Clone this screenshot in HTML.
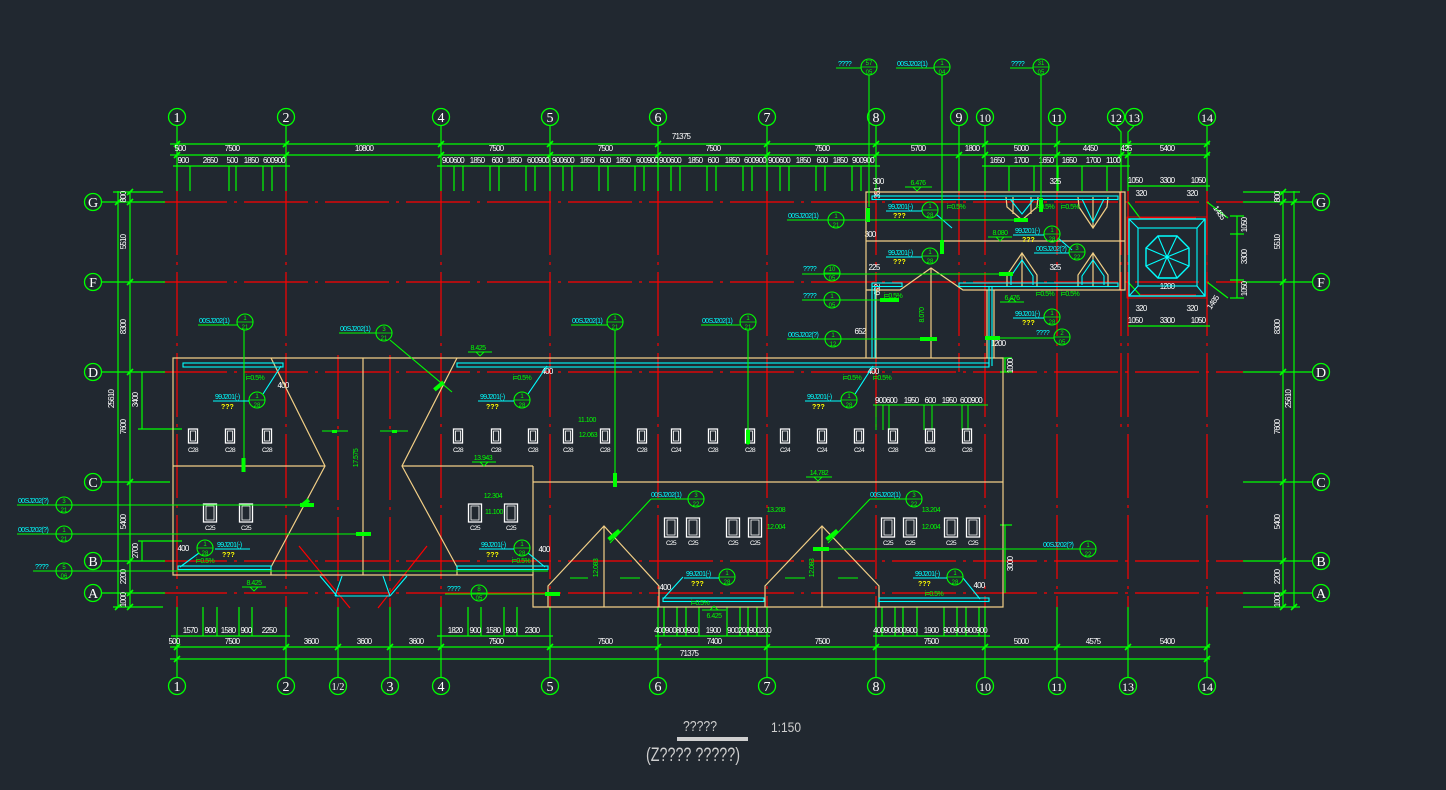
<!DOCTYPE html>
<html><head><meta charset="utf-8">
<style>
html,body{margin:0;padding:0;background:#212830;width:1446px;height:790px;overflow:hidden}
svg{display:block}
.w{fill:#fff;font-family:"Liberation Sans",sans-serif;font-size:8px;text-anchor:middle;letter-spacing:-0.8px}
.n{fill:#fff;font-family:"Liberation Serif",serif;font-size:14px;text-anchor:middle}
.c{fill:#00ffff;font-family:"Liberation Sans",sans-serif;font-size:7px;letter-spacing:-0.6px}
.g{fill:#00ff00;font-family:"Liberation Sans",sans-serif;font-size:7px;text-anchor:middle;letter-spacing:-0.5px}
.s{fill:#00ff00;font-family:"Liberation Sans",sans-serif;font-size:6px;text-anchor:middle}
.y{fill:#ffff00;font-family:"Liberation Sans",sans-serif;font-size:7px;font-weight:bold}
.t{fill:#cfcfcf;font-family:"Liberation Sans",sans-serif;text-anchor:middle}
</style></head><body>
<svg width="1446" height="790" viewBox="0 0 1446 790" xmlns="http://www.w3.org/2000/svg">
<rect width="1446" height="790" fill="#212830"/>

<!-- RED AXIS LINES -->
<g stroke="#ff0000" stroke-width="1.2" stroke-dasharray="64 7 3 7" fill="none">
<path d="M163 202H1243M163 282H1243M163 372H1243M163 561H1243M163 593H1243"/>
<path d="M177 191V607M286 191V607M441 191V607M550 191V607M658 191V607M767 191V607M876 191V607M985 191V607M1057 191V607M1128 191V607M1207 191V607"/>
<path d="M959 191V372M1121 191V430M338 355V607M390 355V607"/>
</g>
<g stroke="#ff0000" stroke-width="1.2" fill="none">
<path d="M1140 218H1196M1140 295H1196"/>
<path d="M299 546L350 608M427 546L378 608"/>
</g>

<!-- GREEN DIMENSIONS / AXES -->
<g stroke="#00ff00" stroke-width="1.2" fill="none">
<path d="M177 126V191M286 126V191M441 126V191M550 126V191M658 126V191M767 126V191M876 126V191M959 126V191M985 126V191M1057 126V191M1207 126V191M1116 126L1121 132V191M1134 126L1128 132V191"/>
<path d="M177 607V677M286 607V677M338 607V677M390 607V677M441 607V677M550 607V677M658 607V677M767 607V677M876 607V677M985 607V677M1057 607V677M1128 607V677M1207 607V677"/>
<path d="M170 144H1210M170 155H1210M173 166H290M437 166H880M982 166H1130"/>
<path d="M190 166V191M229 166V191M236 166V191M263 166V191M272 166V191"/>
<path d="M454 166V191M463 166V191M490 166V191M499 166V191M526 166V191M535 166V191"/>
<path d="M563 166V191M572 166V191M599 166V191M608 166V191M635 166V191M644 166V191"/>
<path d="M671 166V191M680 166V191M707 166V191M716 166V191M743 166V191M752 166V191"/>
<path d="M780 166V191M789 166V191M816 166V191M825 166V191M852 166V191M861 166V191"/>
<path d="M1009 166V191M1034 166V191M1058 166V191M1082 166V191M1107 166V191"/>
<path d="M170 647H1210M170 659H1210M171 636H290M437 636H553M655 636H770M873 636H990"/>
<path d="M203 607V636M217 607V636M239 607V636M252 607V636M468 607V636M481 607V636M504 607V636M517 607V636"/>
<path d="M664 607V636M677 607V636M686 607V636M699 607V636M727 607V636M740 607V636M748 607V636M757 607V636"/>
<path d="M882 607V636M895 607V636M903 607V636M917 607V636M944 607V636M957 607V636M966 607V636M979 607V636"/>
<path d="M118 191V608M130 191V608M113 192H163M113 607H163M142 372V429M138 429H182M142 541V561M138 541H182"/>
<path d="M102 202H165M102 282H165M102 372H165M102 482H170M102 561H165M102 593H165"/>
<path d="M1283 191V608M1294 191V608M1243 192H1300M1243 607H1300"/>
<path d="M1243 202H1313M1243 282H1313M1243 372H1313M1243 482H1313M1243 561H1313M1243 593H1313"/>
<path d="M1005 358V372M1000 358H1012M1000 372H1012M1005 525V593M1000 525H1012"/>
<path d="M1128 186H1210M1128 326H1210M1237 216V298M1230 216H1244M1230 298H1244M1230 234H1244M1230 280H1244M1207 202L1228 218M1207 282L1228 298M1128 202L1140 218M1128 282L1140 295"/>
</g>
<!-- dimension ticks -->
<g stroke="#00ff00" stroke-width="1.6">
<path d="M174 147l6-6M283 147l6-6M438 147l6-6M547 147l6-6M655 147l6-6M764 147l6-6M873 147l6-6M982 147l6-6M1054 147l6-6M1125 147l6-6M1204 147l6-6"/>
<path d="M174 158l6-6M283 158l6-6M438 158l6-6M547 158l6-6M655 158l6-6M764 158l6-6M873 158l6-6M956 158l6-6M982 158l6-6M1054 158l6-6M1118 158l6-6M1125 158l6-6M1204 158l6-6"/>
<path d="M174 650l6-6M283 650l6-6M335 650l6-6M387 650l6-6M438 650l6-6M547 650l6-6M655 650l6-6M764 650l6-6M873 650l6-6M982 650l6-6M1054 650l6-6M1125 650l6-6M1204 650l6-6"/>
<path d="M174 662l6-6M1204 662l6-6"/>
<path d="M115 205l6-6M127 205l6-6M127 195l6-6M127 285l6-6M127 375l6-6M127 485l6-6M127 564l6-6M127 596l6-6M127 610l6-6M115 610l6-6"/>
<path d="M1280 205l6-6M1291 205l6-6M1280 195l6-6M1280 285l6-6M1280 375l6-6M1280 485l6-6M1280 564l6-6M1280 596l6-6M1280 610l6-6M1291 610l6-6"/>
</g>

<!-- axis circles -->
<g stroke="#00ff00" stroke-width="1.3" fill="none">
<circle cx="177" cy="117" r="8.5"/><circle cx="286" cy="117" r="8.5"/><circle cx="441" cy="117" r="8.5"/><circle cx="550" cy="117" r="8.5"/><circle cx="658" cy="117" r="8.5"/><circle cx="767" cy="117" r="8.5"/><circle cx="876" cy="117" r="8.5"/><circle cx="959" cy="117" r="8.5"/><circle cx="985" cy="117" r="8.5"/><circle cx="1057" cy="117" r="8.5"/><circle cx="1116" cy="117" r="8.5"/><circle cx="1134" cy="117" r="8.5"/><circle cx="1207" cy="117" r="8.5"/>
<circle cx="177" cy="686" r="8.5"/><circle cx="286" cy="686" r="8.5"/><circle cx="338" cy="686" r="8.5"/><circle cx="390" cy="686" r="8.5"/><circle cx="441" cy="686" r="8.5"/><circle cx="550" cy="686" r="8.5"/><circle cx="658" cy="686" r="8.5"/><circle cx="767" cy="686" r="8.5"/><circle cx="876" cy="686" r="8.5"/><circle cx="985" cy="686" r="8.5"/><circle cx="1057" cy="686" r="8.5"/><circle cx="1128" cy="686" r="8.5"/><circle cx="1207" cy="686" r="8.5"/>
<circle cx="93" cy="202" r="8.5"/><circle cx="93" cy="282" r="8.5"/><circle cx="93" cy="372" r="8.5"/><circle cx="93" cy="482" r="8.5"/><circle cx="93" cy="561" r="8.5"/><circle cx="93" cy="593" r="8.5"/>
<circle cx="1321" cy="202" r="8.5"/><circle cx="1321" cy="282" r="8.5"/><circle cx="1321" cy="372" r="8.5"/><circle cx="1321" cy="482" r="8.5"/><circle cx="1321" cy="561" r="8.5"/><circle cx="1321" cy="593" r="8.5"/>
</g>
<g class="n">
<text x="177" y="122">1</text><text x="286" y="122">2</text><text x="441" y="122">4</text><text x="550" y="122">5</text><text x="658" y="122">6</text><text x="767" y="122">7</text><text x="876" y="122">8</text><text x="959" y="122">9</text><text x="985" y="122" font-size="12">10</text><text x="1057" y="122" font-size="12">11</text><text x="1116" y="122" font-size="12">12</text><text x="1134" y="122" font-size="12">13</text><text x="1207" y="122" font-size="12">14</text>
<text x="177" y="691">1</text><text x="286" y="691">2</text><text x="338" y="690" font-size="10">1/2</text><text x="390" y="691">3</text><text x="441" y="691">4</text><text x="550" y="691">5</text><text x="658" y="691">6</text><text x="767" y="691">7</text><text x="876" y="691">8</text><text x="985" y="691" font-size="12">10</text><text x="1057" y="691" font-size="12">11</text><text x="1128" y="691" font-size="12">13</text><text x="1207" y="691" font-size="12">14</text>
<text x="93" y="207">G</text><text x="93" y="287">F</text><text x="93" y="377">D</text><text x="93" y="487">C</text><text x="93" y="566">B</text><text x="93" y="598">A</text>
<text x="1321" y="207">G</text><text x="1321" y="287">F</text><text x="1321" y="377">D</text><text x="1321" y="487">C</text><text x="1321" y="566">B</text><text x="1321" y="598">A</text>
</g>

<g class="w">
<text x="681" y="139">71375</text>
<text x="180" y="151">500</text><text x="232" y="151">7500</text><text x="364" y="151">10800</text><text x="496" y="151">7500</text><text x="605" y="151">7500</text><text x="713" y="151">7500</text><text x="822" y="151">7500</text><text x="918" y="151">5700</text><text x="972" y="151">1800</text><text x="1021" y="151">5000</text><text x="1090" y="151">4450</text><text x="1126" y="151">425</text><text x="1167" y="151">5400</text>
<text x="183" y="163">900</text><text x="210" y="163">2650</text><text x="232" y="163">500</text><text x="251" y="163">1850</text><text x="274" y="163">600900</text>
<text x="453" y="163">900600</text><text x="477" y="163">1850</text><text x="497" y="163">600</text><text x="514" y="163">1850</text><text x="538" y="163">600900</text>
<text x="563" y="163">900600</text><text x="587" y="163">1850</text><text x="605" y="163">600</text><text x="623" y="163">1850</text><text x="647" y="163">600900</text>
<text x="670" y="163">900600</text><text x="695" y="163">1850</text><text x="713" y="163">600</text><text x="732" y="163">1850</text><text x="755" y="163">600900</text>
<text x="779" y="163">900600</text><text x="803" y="163">1850</text><text x="822" y="163">600</text><text x="840" y="163">1850</text><text x="863" y="163">900900</text>
<text x="997" y="163">1650</text><text x="1021" y="163">1700</text><text x="1046" y="163">1650</text><text x="1069" y="163">1650</text><text x="1093" y="163">1700</text><text x="1113" y="163">1100</text>
<text x="190" y="633">1570</text><text x="210" y="633">900</text><text x="228" y="633">1580</text><text x="246" y="633">900</text><text x="269" y="633">2250</text>
<text x="455" y="633">1820</text><text x="475" y="633">900</text><text x="493" y="633">1580</text><text x="511" y="633">900</text><text x="532" y="633">2300</text>
<text x="676" y="633">400900800900</text><text x="713" y="633">1900</text><text x="749" y="633">900200900200</text>
<text x="895" y="633">400900800900</text><text x="931" y="633">1900</text><text x="965" y="633">900900900900</text>
<text x="174" y="644">500</text><text x="232" y="644">7500</text><text x="311" y="644">3600</text><text x="364" y="644">3600</text><text x="416" y="644">3600</text><text x="496" y="644">7500</text><text x="605" y="644">7500</text><text x="714" y="644">7400</text><text x="822" y="644">7500</text><text x="931" y="644">7500</text><text x="1021" y="644">5000</text><text x="1093" y="644">4575</text><text x="1167" y="644">5400</text>
<text x="689" y="656">71375</text>
<text transform="translate(126 197) rotate(-90)">800</text>
<text transform="translate(126 242) rotate(-90)">5510</text>
<text transform="translate(126 327) rotate(-90)">8300</text>
<text transform="translate(126 427) rotate(-90)">7600</text>
<text transform="translate(126 522) rotate(-90)">5400</text>
<text transform="translate(126 577) rotate(-90)">2200</text>
<text transform="translate(126 600) rotate(-90)">1000</text>
<text transform="translate(114 399) rotate(-90)">25610</text>
<text transform="translate(138 400) rotate(-90)">3400</text>
<text transform="translate(138 551) rotate(-90)">2700</text>
<text transform="translate(1280 197) rotate(-90)">800</text>
<text transform="translate(1280 242) rotate(-90)">5510</text>
<text transform="translate(1280 327) rotate(-90)">8300</text>
<text transform="translate(1280 427) rotate(-90)">7600</text>
<text transform="translate(1280 522) rotate(-90)">5400</text>
<text transform="translate(1280 577) rotate(-90)">2200</text>
<text transform="translate(1280 600) rotate(-90)">1000</text>
<text transform="translate(1291 399) rotate(-90)">25610</text>
<text transform="translate(1013 366) rotate(-90)">1000</text>
<text transform="translate(1013 564) rotate(-90)">3000</text>
<text transform="translate(880 193) rotate(-90)">351</text>
<text transform="translate(880 290) rotate(-90)">652</text>
<text x="1135" y="183">1050</text><text x="1167" y="183">3300</text><text x="1198" y="183">1050</text>
<text x="1141" y="196">320</text><text x="1192" y="196">320</text>
<text x="1141" y="311">320</text><text x="1192" y="311">320</text>
<text x="1135" y="323">1050</text><text x="1167" y="323">3300</text><text x="1198" y="323">1050</text>
<text x="1167" y="289">1200</text>
<text transform="translate(1247 225) rotate(-90)">1050</text>
<text transform="translate(1247 257) rotate(-90)">3300</text>
<text transform="translate(1247 289) rotate(-90)">1050</text>
<text transform="translate(1217 214) rotate(55)">1485</text>
<text transform="translate(1215 304) rotate(-55)">1485</text>
<text x="878" y="184">300</text><text x="1055" y="184">325</text><text x="1055" y="270">325</text><text x="874" y="270">225</text><text x="870" y="237">300</text><text x="860" y="334">652</text><text x="998" y="346">1200</text>
<text x="283" y="388">400</text><text x="547" y="374">400</text><text x="873" y="374">400</text><text x="183" y="551">400</text><text x="544" y="552">400</text><text x="665" y="590">400</text><text x="979" y="588">400</text>
<text x="886" y="403">900600</text><text x="911" y="403">1950</text><text x="930" y="403">600</text><text x="949" y="403">1950</text><text x="971" y="403">600900</text>
</g>
<g stroke="#00ff00" stroke-width="1" fill="none"><path d="M873 405H988M876 405V430M883 405V430M889 405V430M924 405V430M932 405V430M962 405V430M968 405V430"/></g>

<!-- BUILDING OUTLINE -->
<g stroke="#f2cf86" stroke-width="1.2" fill="none">
<path d="M173 358H1003V607H533V575H173Z"/>
<path d="M533 466V575M173 466H325M402 466H533M533 482H1003M363 358V575"/>
<path d="M271 358L325 466L271 567V575M457 358L402 466L457 567V575"/>
<path d="M548 607V586L604 526L659 586V607M604 526V607M765 607V586L822 526L879 586V607M822 526V607"/>
<path d="M866 358V192H1125V290H963L931 268L900 290H866M866 241H1125M876 290V358M931 268V358M987 290V358M994 290V358"/>
<path d="M1006 197L1007 207L1022 220L1037 207L1038 197M1013 197V214M1031 197V214"/>
<path d="M1078 197L1079 207L1093 228L1107 207L1108 197M1093 197V228"/>
<path d="M1007 287V275L1022 253L1037 275V287M1022 253V287M1078 287V275L1093 253L1108 275V287M1093 253V287"/>
<path d="M1120 192V290"/>
</g>

<!-- CYAN -->
<g stroke="#00ffff" stroke-width="1.1" fill="none">
<rect x="183" y="363" width="100" height="4"/>
<rect x="457" y="363" width="532" height="4"/>
<rect x="178" y="566" width="93" height="3.5"/>
<rect x="457" y="566" width="91" height="3.5"/>
<rect x="663" y="598" width="101" height="3.5"/>
<rect x="879" y="598" width="110" height="3.5"/>
<rect x="872" y="196" width="246" height="3.5"/>
<rect x="872" y="283" width="30" height="3.5"/>
<rect x="959" y="283" width="159" height="3.5"/>
<path d="M872 287V358M875 287V358M989 287V366M992 287V366"/>
<path d="M1010 199L1022 214L1034 199M1082 199L1093 222L1104 199M1011 285V276L1022 260L1033 276V285M1082 285V276L1093 260L1104 276V285"/>
<path d="M320 576L337 596M342 576L335 596M335 596H390M383 576L390 596M407 576L390 596"/>
<rect x="1129" y="219" width="76" height="77" stroke-width="1.4"/>
<rect x="1138" y="228" width="59" height="58"/>
<path d="M1158 236H1177L1189 248V266L1177 278H1158L1146 266V248Z" stroke-width="1.4"/>
<path d="M1167 257L1158 236M1167 257L1177 236M1167 257L1189 248M1167 257L1189 266M1167 257L1177 278M1167 257L1158 278M1167 257L1146 266M1167 257L1146 248"/>
<path d="M1129 219L1138 228M1205 219L1197 228M1129 296L1138 286M1205 296L1197 286"/>
<path d="M263 394L281 366M528 394L547 366M855 394L873 366M199 553L180 567M528 553L545 567M683 577L663 599M963 578L980 599M936 214L952 228M1058 238L1072 250"/>
</g>
<rect x="1127" y="217" width="80" height="81" fill="none" stroke="#ff0000" stroke-width="0.8"/>
<circle cx="1167" cy="257" r="1.6" fill="#00ffff"/>

<!-- WINDOWS -->
<g stroke="#fff" stroke-width="1.3" fill="none">
<path d="M188.5 429h9v14h-9zM225.5 429h9v14h-9zM262.5 429h9v14h-9zM453.5 429h9v14h-9zM491.5 429h9v14h-9zM528.5 429h9v14h-9zM563.5 429h9v14h-9zM600.5 429h9v14h-9zM637.5 429h9v14h-9zM671.5 429h9v14h-9zM708.5 429h9v14h-9zM745.5 429h9v14h-9zM780.5 429h9v14h-9zM817.5 429h9v14h-9zM854.5 429h9v14h-9zM888.5 429h9v14h-9zM925.5 429h9v14h-9zM962.5 429h9v14h-9z"/>
<path d="M203.5 504h13v18h-13zM239.5 504h13v18h-13zM468.5 504h13v18h-13zM504.5 504h13v18h-13z"/>
<path d="M664.5 518h13v19h-13zM686.5 518h13v19h-13zM726.5 518h13v19h-13zM748.5 518h13v19h-13zM881.5 518h13v19h-13zM903.5 518h13v19h-13zM944.5 518h13v19h-13zM966.5 518h13v19h-13z"/>
</g>
<g stroke="#fff" stroke-width="0.8" fill="none">
<path d="M190.5 431h5v10h-5zM227.5 431h5v10h-5zM264.5 431h5v10h-5zM455.5 431h5v10h-5zM493.5 431h5v10h-5zM530.5 431h5v10h-5zM565.5 431h5v10h-5zM602.5 431h5v10h-5zM639.5 431h5v10h-5zM673.5 431h5v10h-5zM710.5 431h5v10h-5zM747.5 431h5v10h-5zM782.5 431h5v10h-5zM819.5 431h5v10h-5zM856.5 431h5v10h-5zM890.5 431h5v10h-5zM927.5 431h5v10h-5zM964.5 431h5v10h-5z"/>
<path d="M206 506h8v14h-8zM242 506h8v14h-8zM471 506h8v14h-8zM507 506h8v14h-8zM667 520h8v15h-8zM689 520h8v15h-8zM729 520h8v15h-8zM751 520h8v15h-8zM884 520h8v15h-8zM906 520h8v15h-8zM947 520h8v15h-8zM969 520h8v15h-8z"/>
</g>
<g class="w" style="font-size:6.5px;letter-spacing:-0.6px">
<text x="193" y="452">C28</text><text x="230" y="452">C28</text><text x="267" y="452">C28</text><text x="458" y="452">C28</text><text x="496" y="452">C28</text><text x="533" y="452">C28</text><text x="568" y="452">C28</text><text x="605" y="452">C28</text><text x="642" y="452">C28</text><text x="676" y="452">C24</text><text x="713" y="452">C28</text><text x="750" y="452">C28</text><text x="785" y="452">C24</text><text x="822" y="452">C24</text><text x="859" y="452">C24</text><text x="893" y="452">C28</text><text x="930" y="452">C28</text><text x="967" y="452">C28</text>
<text x="210" y="530">C25</text><text x="246" y="530">C25</text><text x="475" y="530">C25</text><text x="511" y="530">C25</text>
<text x="671" y="545">C25</text><text x="693" y="545">C25</text><text x="733" y="545">C25</text><text x="755" y="545">C25</text><text x="888" y="545">C25</text><text x="910" y="545">C25</text><text x="951" y="545">C25</text><text x="973" y="545">C25</text>
</g>

<!-- ANNOTATION LEADERS -->
<g stroke="#00ff00" stroke-width="1.1" fill="none">
<path d="M869 75V207M942 75V247M1041 75V207"/>
<path d="M836 68H861M896 68H934M1010 68H1033"/>
<path d="M198 325H237M244 330V472M339 333H376M390 340L452 392M571 325H607M615 330V487M701 325H740M748 330V445"/>
<path d="M17 505H314M17 534H371M33 571H548"/>
<path d="M787 220H1028M802 274H1013M802 300H899M787 339H937M985 338H1054"/>
<path d="M813 549H1080M445 594H560"/>
<path d="M651 499H688M651 499L610 543M870 499H906M870 499L828 543"/>
<path d="M322 431H348M380 431H408M570 578H588M620 578H640M785 578H805M838 578H858"/>
</g>
<g fill="#00ff00">
<rect x="241.5" y="458" width="4" height="14"/><rect x="613" y="473" width="4" height="14"/><rect x="746" y="430" width="4" height="14"/>
<rect x="300" y="503" width="14" height="4"/><rect x="356" y="532" width="15" height="4"/><rect x="545" y="592" width="15" height="4"/>
<rect x="1014" y="218" width="14" height="4"/><rect x="999" y="272" width="14" height="4"/><rect x="880" y="298" width="19" height="4"/><rect x="920" y="337" width="17" height="4"/><rect x="985" y="336" width="15" height="4"/><rect x="813" y="547" width="16" height="4"/>
<rect x="866" y="208" width="4" height="14"/><rect x="940" y="240" width="4" height="14"/><rect x="1039" y="198" width="4" height="14"/>
<rect x="303" y="498" width="4" height="10" transform="rotate(50 305 503)"/>
<rect x="437" y="380" width="4" height="12" transform="rotate(50 439 386)"/>
<rect x="612" y="528" width="4" height="14" transform="rotate(50 614 535)"/>
<rect x="830" y="528" width="4" height="14" transform="rotate(50 832 535)"/>
<rect x="332" y="430" width="5" height="3"/><rect x="392" y="430" width="5" height="3"/>
</g>
<g stroke="#00ff00" stroke-width="1.1" fill="none">
<circle cx="869" cy="67" r="8"/><circle cx="942" cy="67" r="8"/><circle cx="1041" cy="67" r="8"/>
<circle cx="245" cy="322" r="8"/><circle cx="384" cy="333" r="8"/><circle cx="615" cy="322" r="8"/><circle cx="748" cy="322" r="8"/>
<circle cx="64" cy="505" r="8"/><circle cx="64" cy="534" r="8"/><circle cx="64" cy="571" r="8"/>
<circle cx="836" cy="220" r="8"/><circle cx="832" cy="273" r="8"/><circle cx="832" cy="300" r="8"/><circle cx="833" cy="339" r="8"/><circle cx="1062" cy="337" r="8"/>
<circle cx="1088" cy="549" r="8"/><circle cx="479" cy="593" r="8"/><circle cx="696" cy="499" r="8"/><circle cx="914" cy="499" r="8"/>
<circle cx="257" cy="400" r="8"/><circle cx="522" cy="400" r="8"/><circle cx="849" cy="400" r="8"/><circle cx="205" cy="548" r="8"/><circle cx="522" cy="548" r="8"/><circle cx="727" cy="577" r="8"/><circle cx="955" cy="577" r="8"/>
<circle cx="930" cy="210" r="8"/><circle cx="1052" cy="234" r="8"/><circle cx="930" cy="256" r="8"/><circle cx="1052" cy="317" r="8"/><circle cx="1077" cy="252" r="8"/>
</g>
<g class="s">
<text x="869" y="65">57</text><text x="869" y="74">05</text><text x="942" y="65">1</text><text x="942" y="74">04</text><text x="1041" y="65">31</text><text x="1041" y="74">05</text>
<text x="245" y="320">1</text><text x="245" y="329">21</text><text x="384" y="331">3</text><text x="384" y="340">21</text><text x="615" y="320">1</text><text x="615" y="329">21</text><text x="748" y="320">1</text><text x="748" y="329">21</text>
<text x="64" y="503">3</text><text x="64" y="512">21</text><text x="64" y="532">1</text><text x="64" y="541">21</text><text x="64" y="569">5</text><text x="64" y="578">06</text>
<text x="836" y="218">1</text><text x="836" y="227">21</text><text x="832" y="271">10</text><text x="832" y="280">05</text><text x="832" y="298">1</text><text x="832" y="307">05</text><text x="833" y="337">1</text><text x="833" y="346">12</text><text x="1062" y="335">2</text><text x="1062" y="344">05</text>
<text x="1088" y="547">1</text><text x="1088" y="556">22</text><text x="479" y="591">8</text><text x="479" y="600">05</text><text x="696" y="497">3</text><text x="696" y="506">22</text><text x="914" y="497">3</text><text x="914" y="506">22</text>
<text x="257" y="398">1</text><text x="257" y="407">28</text><text x="522" y="398">1</text><text x="522" y="407">28</text><text x="849" y="398">1</text><text x="849" y="407">28</text><text x="205" y="546">1</text><text x="205" y="555">28</text><text x="522" y="546">1</text><text x="522" y="555">28</text><text x="727" y="575">1</text><text x="727" y="584">28</text><text x="955" y="575">1</text><text x="955" y="584">28</text>
<text x="930" y="208">1</text><text x="930" y="217">28</text><text x="1052" y="232">1</text><text x="1052" y="241">28</text><text x="930" y="254">1</text><text x="930" y="263">28</text><text x="1052" y="315">1</text><text x="1052" y="324">28</text><text x="1077" y="250">3</text><text x="1077" y="259">22</text>
</g>
<g stroke="#00ff00" stroke-width="0.8">
<path d="M861 67h16M934 67h16M1033 67h16M237 322h16M376 333h16M607 322h16M740 322h16M56 505h16M56 534h16M56 571h16M828 220h16M824 273h16M824 300h16M825 339h16M1054 337h16M1080 549h16M471 593h16M688 499h16M906 499h16M249 400h16M514 400h16M841 400h16M197 548h16M514 548h16M719 577h16M947 577h16M922 210h16M1044 234h16M922 256h16M1044 317h16M1069 252h16"/>
</g>
<g stroke="#00ffff" stroke-width="0.9">
<path d="M213 401H249M478 401H514M805 401H841M215 549H250M479 549H514M684 578H719M913 578H947M886 211H922M1013 235H1044M886 257H922M1013 318H1044M1034 253H1069"/>
</g>

<g class="c">
<text x="838" y="66">????</text><text x="897" y="66">00SJ202(1)</text><text x="1011" y="66">????</text>
<text x="199" y="323">00SJ202(1)</text><text x="340" y="331">00SJ202(1)</text><text x="572" y="323">00SJ202(1)</text><text x="702" y="323">00SJ202(1)</text>
<text x="18" y="503">00SJ202(?)</text><text x="18" y="532">00SJ202(?)</text><text x="35" y="569">????</text>
<text x="788" y="218">00SJ202(1)</text><text x="803" y="271">????</text><text x="803" y="298">????</text><text x="788" y="337">00SJ202(?)</text><text x="1036" y="335">????</text>
<text x="1043" y="547">00SJ202(?)</text><text x="447" y="591">????</text><text x="651" y="497">00SJ202(1)</text><text x="870" y="497">00SJ202(1)</text>
<text x="215" y="399">99J201(-)</text><text x="480" y="399">99J201(-)</text><text x="807" y="399">99J201(-)</text><text x="217" y="547">99J201(-)</text><text x="481" y="547">99J201(-)</text><text x="686" y="576">99J201(-)</text><text x="915" y="576">99J201(-)</text>
<text x="888" y="209">99J201(-)</text><text x="1015" y="233">99J201(-)</text><text x="888" y="255">99J201(-)</text><text x="1015" y="316">99J201(-)</text><text x="1036" y="251">00SJ202(?)</text>
</g>
<g class="y">
<text x="221" y="409">???</text><text x="486" y="409">???</text><text x="812" y="409">???</text><text x="222" y="557">???</text><text x="486" y="557">???</text><text x="691" y="586">???</text><text x="918" y="586">???</text>
<text x="893" y="218">???</text><text x="1022" y="242">???</text><text x="893" y="264">???</text><text x="1022" y="325">???</text>
</g>

<g class="g">
<text x="478" y="350">8.425</text><text x="483" y="460">13.943</text><text x="819" y="475">14.782</text><text x="587" y="422">11.100</text><text x="588" y="437">12.063</text>
<text x="493" y="498">12.304</text><text x="494" y="514">11.100</text><text x="776" y="512">13.208</text><text x="776" y="529">12.004</text><text x="931" y="512">13.204</text><text x="931" y="529">12.004</text>
<text x="714" y="618">6.425</text><text x="254" y="585">8.425</text><text x="918" y="185">6.476</text><text x="1000" y="235">8.080</text><text x="1012" y="300">6.476</text>
<text x="255" y="380">i=0.5%</text><text x="522" y="380">i=0.5%</text><text x="852" y="380">i=0.5%</text><text x="882" y="380">i=0.5%</text><text x="205" y="563">i=0.5%</text><text x="521" y="563">i=0.5%</text><text x="700" y="605">i=0.5%</text><text x="934" y="596">i=0.5%</text>
<text x="956" y="209">i=0.5%</text><text x="1045" y="209">i=0.5%</text><text x="1070" y="209">i=0.5%</text><text x="893" y="298">i=0.5%</text><text x="1045" y="296">i=0.5%</text><text x="1070" y="296">i=0.5%</text>
<text transform="translate(358 458) rotate(-90)">17.575</text>
<text transform="translate(598 568) rotate(-90)">12.083</text>
<text transform="translate(814 568) rotate(-90)">12.083</text>
<text transform="translate(924 315) rotate(-90)">8.070</text>
</g>
<g stroke="#00ff00" stroke-width="0.9" fill="none">
<path d="M468 352H492M476 352l4 4 4-4M472 462H496M480 462l4 4 4-4M806 477H832M814 477l4 4 4-4M242 587H266M250 587l4 4 4-4M702 610H726M710 610l4-4 4 4M905 187H932M913 187l4 4 4-4M988 237H1012M996 237l4 4 4-4M1000 302H1024M1008 302l4-4 4 4"/>
</g>

<!-- TITLE -->
<text class="t" x="700" y="731" style="font-size:15px" textLength="34" lengthAdjust="spacingAndGlyphs">?????</text>
<rect x="677" y="737" width="71" height="4" fill="#cfcfcf"/>
<text class="t" x="786" y="732" style="font-size:14px" textLength="30" lengthAdjust="spacingAndGlyphs">1:150</text>
<text class="t" x="693" y="761" style="font-size:19px" textLength="94" lengthAdjust="spacingAndGlyphs">(Z???? ?????)</text>
</svg>
</body></html>
